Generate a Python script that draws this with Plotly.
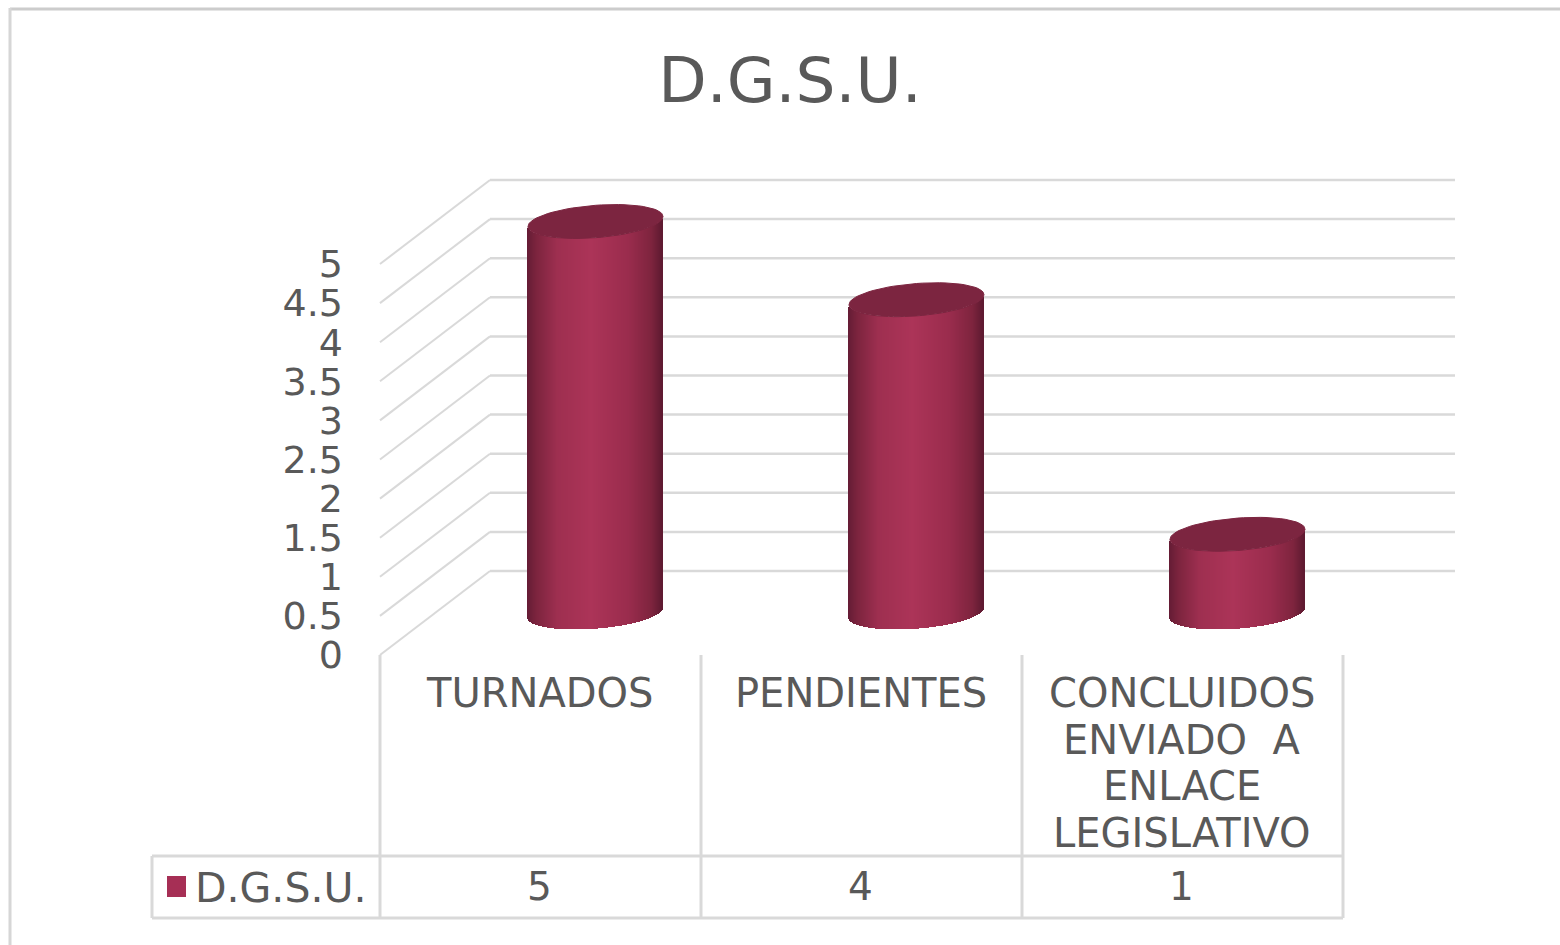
import math
import plotly.graph_objects as go

# ---- data ----
title_text = "D.G.S.U."
series_name = "D.G.S.U."
categories = ["TURNADOS", "PENDIENTES", "CONCLUIDOS<br>ENVIADO  A<br>ENLACE<br>LEGISLATIVO"]
values = [5, 4, 1]
y_ticks = [0, 0.5, 1, 1.5, 2, 2.5, 3, 3.5, 4, 4.5, 5]

# ---- layout constants ----
W, H = 1560, 945
X0, CAT_W = 380.0, 321.0      # pixel of x=0, pixels per category
Y0, UNIT = 655.0, 78.2        # pixel of y=0, pixels per value unit
FONT = "DejaVu Sans"
TXT = "#595959"
LINE = "#d9d9d9"
DX = 110 / CAT_W              # 3D depth, category units
DY = 84 / UNIT                # 3D depth, value units
WALL_END = (1455 - X0) / CAT_W
FLOOR = 42.5 / UNIT           # cylinder base centre above axis zero
R = 67.5 / CAT_W              # cylinder radius, x
B = 16.2 / UNIT               # ellipse minor half, y
TILT = 5 / UNIT               # ellipse tilt, y at right edge
N = 135
LABEL_NUDGE = -1 / CAT_W


def py(p):
    return 1 - p / H


def lerp_colour(t):
    # body shading across the cylinder, t from -1 to 1
    stops = [(-1.0, (100, 28, 52)), (-0.86, (124, 36, 62)), (-0.55, (158, 47, 80)),
             (-0.05, (172, 52, 88)), (0.5, (154, 44, 77)), (0.84, (126, 36, 62)), (1.0, (94, 26, 48))]
    for (a, ca), (b, cb) in zip(stops, stops[1:]):
        if t <= b:
            f = (t - a) / (b - a)
            return "rgb(%d,%d,%d)" % tuple(round(p + (q - p) * f) for p, q in zip(ca, cb))
    return "rgb(94,26,48)"


fig = go.Figure()

for i, v in enumerate(values):
    cx = i + 0.5 + DX / 2
    us = [-1 + (2 * k + 1) / N for k in range(N)]
    fig.add_trace(go.Bar(
        x=[cx + u * R for u in us],
        y=[v] * N,
        base=[FLOOR + TILT * u - B * math.sqrt(1 - u * u) for u in us],
        width=2 * R / N * 1.25,
        marker=dict(color=[lerp_colour(u) for u in us], line=dict(width=0)),
        showlegend=False,
        hoverinfo="skip",
    ))
    angles = [2 * math.pi * k / 72 for k in range(73)]
    fig.add_trace(go.Scatter(
        x=[cx + R * math.cos(a) for a in angles],
        y=[v + FLOOR + TILT * math.cos(a) + B * math.sin(a) for a in angles],
        mode="lines", fill="toself", fillcolor="#7c2540",
        line=dict(width=1, color="#7c2540"),
        showlegend=False, hoverinfo="skip",
    ))

# legend entry
fig.add_trace(go.Scatter(
    x=[None], y=[None], mode="markers", name=series_name,
    marker=dict(symbol="square", size=16, color="#a62f55"),
    showlegend=True,
))

shapes = []
for t in y_ticks:
    shapes.append(dict(type="line", xref="x", yref="y", layer="below",
                       x0=DX, x1=WALL_END, y0=t + DY, y1=t + DY,
                       line=dict(color=LINE, width=2.5)))
    shapes.append(dict(type="line", xref="x", yref="y", layer="below",
                       x0=0, x1=DX, y0=t, y1=t + DY,
                       line=dict(color=LINE, width=2)))
# data table rules
for k in range(len(categories) + 1):
    shapes.append(dict(type="line", xref="x", yref="paper", x0=k, x1=k,
                       y0=py(655), y1=py(918), line=dict(color=LINE, width=3)))
left_px = (152 - X0) / CAT_W
for p in (856, 918):
    shapes.append(dict(type="line", xref="x", yref="paper", x0=left_px, x1=len(categories),
                       y0=py(p), y1=py(p), line=dict(color=LINE, width=3)))
shapes.append(dict(type="line", xref="x", yref="paper", x0=left_px, x1=left_px,
                   y0=py(856), y1=py(918), line=dict(color=LINE, width=3)))
# legend key, full size
shapes.append(dict(type="rect", xref="paper", yref="paper", x0=167 / W, x1=186 / W,
                   y0=py(897), y1=py(876), fillcolor="#a62f55", line=dict(width=0)))
# outer chart frame
shapes.append(dict(type="line", xref="paper", yref="paper", x0=10 / W, x1=1,
                   y0=py(9), y1=py(9), line=dict(color="#cccccc", width=3)))
shapes.append(dict(type="line", xref="paper", yref="paper", x0=10 / W, x1=10 / W,
                   y0=py(8), y1=0, line=dict(color="#d6d6d6", width=3)))

annotations = []
LINE_Y = [693, 740, 786, 833]
for i, c in enumerate(categories):
    for j, part in enumerate(c.split("<br>")):
        annotations.append(dict(x=i + 0.5 + LABEL_NUDGE, xref="x", y=py(LINE_Y[j]), yref="paper",
                                text=part, showarrow=False, xanchor="center", yanchor="middle",
                                font=dict(family=FONT, size=40, color=TXT)))
    annotations.append(dict(x=i + 0.5 + LABEL_NUDGE, xref="x", y=py(886), yref="paper",
                            text=str(values[i]), showarrow=False, xanchor="center", yanchor="middle",
                            font=dict(family=FONT, size=39, color=TXT)))

fig.update_layout(
    width=W, height=H, autosize=False,
    margin=dict(l=0, r=0, t=0, b=0),
    paper_bgcolor="white", plot_bgcolor="white",
    barmode="overlay", bargap=0,
    title=dict(text=title_text, x=790 / W, xanchor="center", y=py(80), yanchor="middle",
               font=dict(family=FONT, size=63, color=TXT)),
    xaxis=dict(range=[-X0 / CAT_W, (W - X0) / CAT_W], visible=False, fixedrange=True),
    yaxis=dict(range=[(Y0 - H) / UNIT, Y0 / UNIT], anchor="free", position=343 / W,
               side="left", tickmode="array", tickvals=y_ticks,
               ticktext=[("%g" % t) for t in y_ticks], showgrid=False, zeroline=False,
               showline=False, ticks="", tickfont=dict(family=FONT, size=38, color=TXT),
               fixedrange=True),
    legend=dict(x=155 / W, y=py(886), xanchor="left", yanchor="middle",
                bgcolor="rgba(0,0,0,0)", font=dict(family=FONT, size=41, color=TXT),
                itemwidth=30),
    shapes=shapes,
    annotations=annotations,
)

fig.write_html("out.html", config={"displayModeBar": False},
               post_script="document.body.style.margin='0';document.body.style.overflow='hidden';")
